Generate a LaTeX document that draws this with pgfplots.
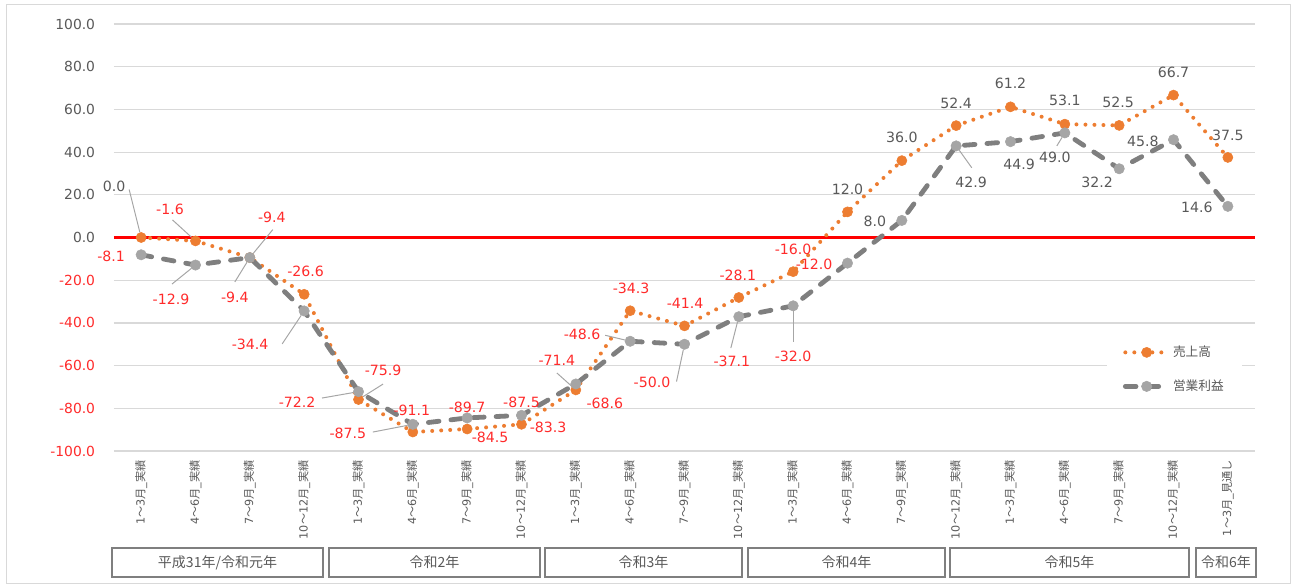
\documentclass[border=0pt]{standalone}
\usepackage{pgfplots}
\pgfplotsset{compat=1.18}
\usepackage{pgfplotstable}
\usepackage{fontspec}
\setmainfont{DejaVu Sans}
\newfontfamily\jp{Noto Sans CJK JP}

\definecolor{uriage}{HTML}{ED7D31}
\definecolor{eigyo}{HTML}{7F7F7F}
\definecolor{eigyomk}{HTML}{A5A5A5}
\definecolor{negred}{HTML}{FF2B2B}
\definecolor{zerored}{HTML}{FF0000}
\definecolor{txtgray}{HTML}{595959}
\definecolor{gridgray}{HTML}{D9D9D9}
\definecolor{leadgray}{HTML}{A6A6A6}
\definecolor{boxgray}{HTML}{7F7F7F}

% quarter label: digits in DejaVu, kana/kanji in Noto CJK
\newcommand{\qlab}[2]{#1{\jp ～}#2{\jp 月}\_{\jp 実績}}

% x, value, label offset dx/dy (pt), leader flag, leader end lx/ly (pt)
\pgfplotstableread{
x  y     dx      dy     ld lx     ly
1  0.0   -20.25  38.6   1  -9.0   36.0
2  -1.6  -19.1   24.0   1  -17.25 15.75
3  -9.4  16.5    30.5   1  17.25  21.0
4  -26.6 1.1     17.0   0  0      0
5  -75.9 18.4    21.75  1  18.4   11.6
6  -91.1 -0.75   16.5   0  0      0
7  -89.7 0       16.5   0  0      0
8  -87.5 0       16.5   0  0      0
9  -71.4 -14.25  22.5   1  -14.25 12.75
10 -34.3 0.75    17.0   0  0      0
11 -41.4 0.4     17.25  0  0      0
12 -28.1 -0.75   16.9   0  0      0
13 -16.0 0       17.0   0  0      0
14 12.0  0       17.25  0  0      0
15 36.0  0       17.6   0  0      0
16 52.4  0       17.0   0  0      0
17 61.2  0       17.25  0  0      0
18 53.1  0       18.0   0  0      0
19 52.5  -0.75   17.25  0  0      0
20 66.7  0       17.25  0  0      0
21 37.5  0       16.5   0  0      0
}\salesdata

\pgfplotstableread{
x  y     dx      dy     ld lx     ly
1  -8.1  -22.5   -1.5   0  0      0
2  -12.9 -18.4   -25.5  1  -17.6  -14.25
3  -9.4  -11.25  -29.5  1  -11.25 -18.3
4  -34.4 -40.5   -24.75 1  -16.5  -24.75
5  -72.2 -46.1   -7.8   1  -27.4  -4.8
6  -87.5 -48.75  -6.75  1  -30.0  -5.8
7  -84.5 17.25   -14.25 0  0      0
8  -83.3 19.9    -8.8   0  0      0
9  -68.6 21.75   -14.25 0  0      0
10 -48.6 -36.0   5.25   1  -18.75 4.5
11 -50.0 -24.4   -28.3  1  -6.0   -28.0
12 -37.1 -5.25   -33.75 1  -6.0   -23.5
13 -32.0 0       -38.25 1  0      -27.0
14 -12.0 -25.1   -0.75  0  0      0
15 8.0   -20.25  -0.4   0  0      0
16 42.9  11.25   -27.0  1  11.7   -16.4
17 44.9  6.4     -16.8  0  0      0
18 49.0  -7.5    -18.0  1  -6.0   -9.75
19 32.2  -16.5   -10.5  0  0      0
20 45.8  -22.9   -1.0   0  0      0
21 14.6  -23.25  -0.5   0  0      0
}\profitdata

\pgfplotsset{
  vlabels/.style={
    draw=none, mark=none, forget plot,
    visualization depends on={\thisrow{y}\as\lby},
    visualization depends on={\thisrow{dx}\as\lbdx},
    visualization depends on={\thisrow{dy}\as\lbdy},
    nodes near coords={\ifdim\lby pt<0pt\color{negred}\else\color{txtgray}\fi\pgfmathprintnumber[fixed,fixed zerofill,precision=1,assume math mode=true]{\lby}},
    every node near coord/.append style={anchor=center, inner sep=1pt,
      xshift=\lbdx pt, yshift=\lbdy pt, font=\fontsize{10.6}{12}\selectfont},
  },
  % leader lines: 1 data unit = 40.75pt across, 1.60125pt up
  leaders/.style={
    leadgray, line width=0.75pt, forget plot, shorten <=4pt,
    x filter/.expression={\thisrow{ld}>0.5 ? x : nan},
    quiver={u=\thisrow{lx}/40.75, v=\thisrow{ly}/1.60125,
      every arrow/.append style={-}},
  },
}

\newcommand{\yearbox}[3]{%
  \draw[boxgray, line width=1.1pt] (#1pt,-72.75pt) rectangle (#2pt,-94.5pt);
  \path (#1pt,-83.6pt) -- node[text=txtgray, font=\jp\fontsize{10.5}{12}\selectfont] {#3} (#2pt,-83.6pt);}

\begin{document}
\begin{tikzpicture}
\useasboundingbox (-85.5pt,-101.25pt) rectangle (883.5pt,338.25pt);
\draw[gridgray, line width=0.75pt] (-80.5pt,-99.5pt) rectangle (882pt,335pt);
\begin{axis}[
  at={(0,0)}, anchor=south west,
  scale only axis, width=855.75pt, height=320.25pt,
  xmin=0.5, xmax=21.5, ymin=-100, ymax=100,
  clip=false,
  axis line style={draw=none},
  major tick length=0pt,
  ymajorgrids, grid style={gridgray, line width=0.9pt},
  xtick={1,...,21},
  xticklabels={\qlab{1}{3}, \qlab{4}{6}, \qlab{7}{9}, \qlab{10}{12},
    \qlab{1}{3}, \qlab{4}{6}, \qlab{7}{9}, \qlab{10}{12},
    \qlab{1}{3}, \qlab{4}{6}, \qlab{7}{9}, \qlab{10}{12},
    \qlab{1}{3}, \qlab{4}{6}, \qlab{7}{9}, \qlab{10}{12},
    \qlab{1}{3}, \qlab{4}{6}, \qlab{7}{9}, \qlab{10}{12},
    1{\jp ～}3{\jp 月}\_{\jp 見通し}},
  xticklabel style={rotate=90, anchor=east, inner sep=0pt, text=txtgray,
    font=\fontsize{8.4}{9}\selectfont},
  xticklabel shift=6.75pt,
  ytick={-100,-80,...,100},
  yticklabels={\textcolor{negred}{-100.0}, \textcolor{negred}{-80.0},
    \textcolor{negred}{-60.0}, \textcolor{negred}{-40.0}, \textcolor{negred}{-20.0},
    0.0, 20.0, 40.0, 60.0, 80.0, 100.0},
  yticklabel style={anchor=east, inner sep=0pt, text=txtgray,
    font=\fontsize{10.4}{12}\selectfont},
  yticklabel shift=14pt,
  legend style={at={(0.870,0.262)}, anchor=north west, draw=none, fill=white,
    inner xsep=12pt, inner ysep=3pt, row sep=12pt,
    font=\jp\fontsize{9.5}{11}\selectfont, text=txtgray, cells={anchor=west}},
  legend image code/.code={\draw[mark repeat=2, mark phase=2, #1]
    plot coordinates {(0pt,0pt) (16pt,0pt) (32pt,0pt)};},
]
\addplot[zerored, line width=2.25pt, forget plot] coordinates {(0.5,0) (21.5,0)};

\addplot[uriage, line width=3pt, line cap=round, dash pattern=on 0pt off 6.75pt,
  mark=*, mark size=3.8pt, mark options={solid, fill=uriage, draw=uriage, line width=0.4pt}]
  table[x=x, y=y] {\salesdata};
\addlegendentry{売上高}

\addplot[eigyo, line width=3.6pt, line cap=round, dash pattern=on 8pt off 9pt,
  mark=*, mark size=3.9pt, mark options={solid, fill=eigyomk, draw=eigyomk, line width=0.4pt}]
  table[x=x, y=y] {\profitdata};
\addlegendentry{営業利益}

\addplot[leaders] table[x=x, y=y] {\salesdata};
\addplot[leaders] table[x=x, y=y] {\profitdata};
\addplot[vlabels] table[x=x, y=y] {\salesdata};
\addplot[vlabels] table[x=x, y=y] {\profitdata};
\end{axis}

\yearbox{-1.5}{156.75}{平成31年/令和元年}
\yearbox{161.25}{319.5}{令和2年}
\yearbox{323.25}{471}{令和3年}
\yearbox{475.5}{623.25}{令和4年}
\yearbox{627}{806.25}{令和5年}
\yearbox{811.5}{856.5}{令和6年}
\end{tikzpicture}
\end{document}
